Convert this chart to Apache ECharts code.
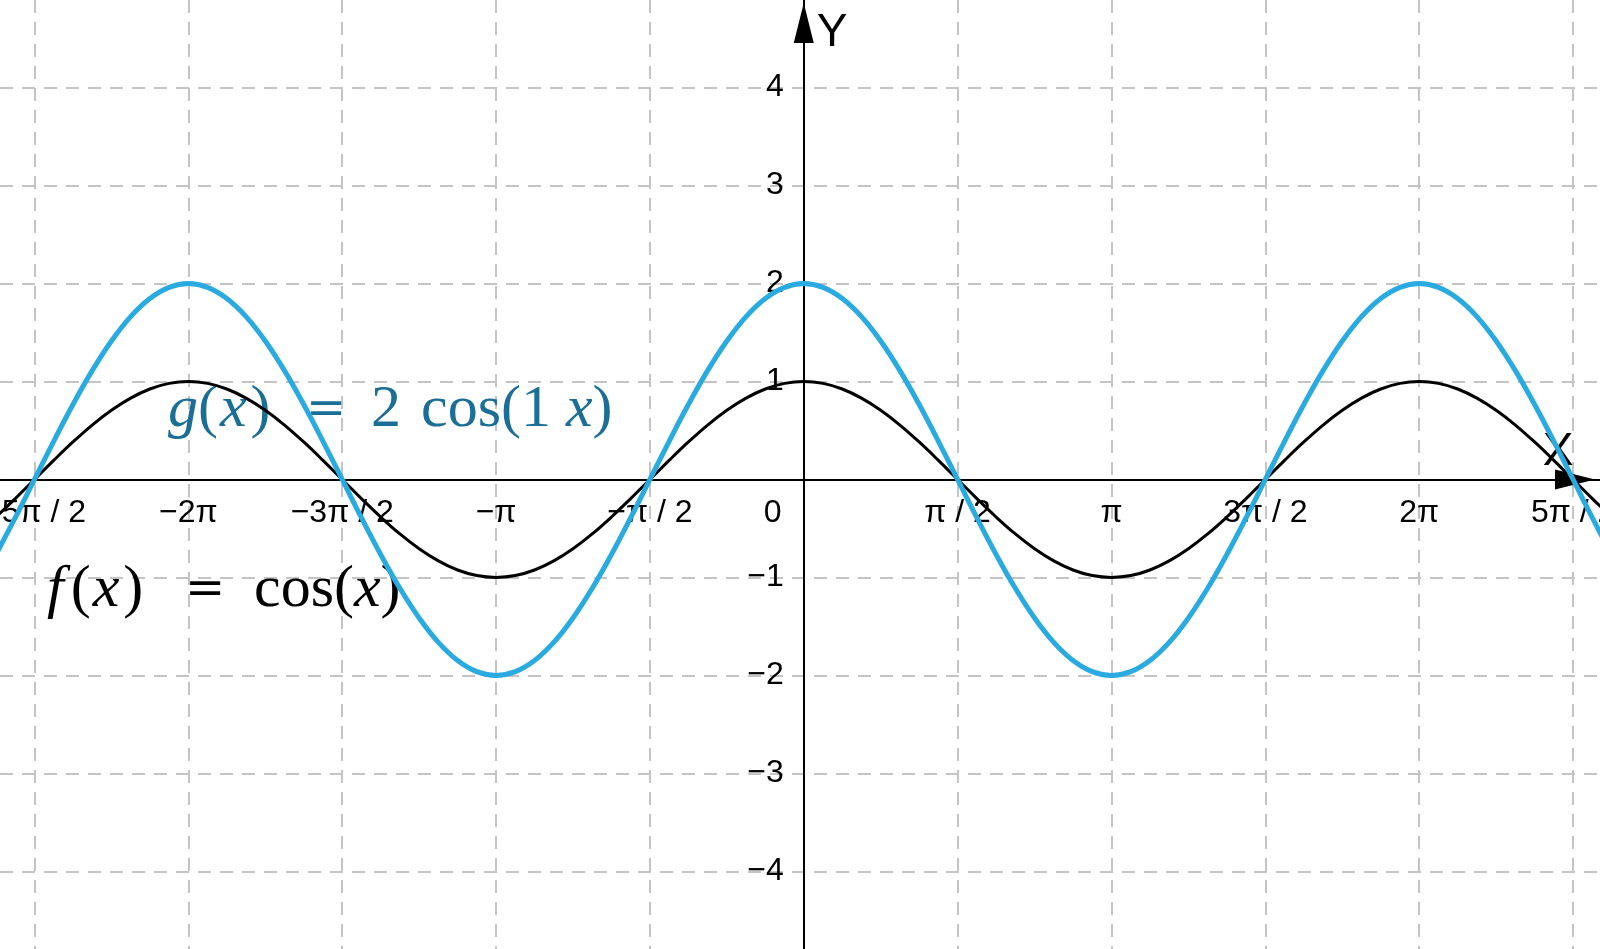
<!DOCTYPE html>
<html>
<head>
<meta charset="utf-8">
<script src="https://cdn.jsdelivr.net/npm/echarts@6/dist/echarts.min.js"></script>
<style>
html,body{margin:0;padding:0;background:#fff;}
#chart{width:1600px;height:949px;}
</style>
</head>
<body>
<div id="chart"></div>
<script>
// x sample positions, in multiples of π/16
const sampleSixteenths = [-42,-41,-40,-39,-38,-37,-36,-35,-34,-33,-32,-31,-30,-29,-28,-27,-26,-25,-24,-23,-22,-21,
  -20,-19,-18,-17,-16,-15,-14,-13,-12,-11,-10,-9,-8,-7,-6,-5,-4,-3,-2,-1,0,
  1,2,3,4,5,6,7,8,9,10,11,12,13,14,15,16,17,18,19,20,21,22,23,24,25,26,27,28,29,30,31,32,33,34,35,36,37,38,39,40,41,42];
// f(x) = cos(x), values read at those positions
const fValues = [-0.383,-0.195,0,0.195,0.383,0.556,0.707,0.831,0.924,0.981,1,0.981,0.924,0.831,0.707,0.556,0.383,0.195,0,-0.195,-0.383,-0.556,
  -0.707,-0.831,-0.924,-0.981,-1,-0.981,-0.924,-0.831,-0.707,-0.556,-0.383,-0.195,0,0.195,0.383,0.556,0.707,0.831,0.924,0.981,1,
  0.981,0.924,0.831,0.707,0.556,0.383,0.195,0,-0.195,-0.383,-0.556,-0.707,-0.831,-0.924,-0.981,-1,-0.981,-0.924,-0.831,-0.707,-0.556,-0.383,-0.195,
  0,0.195,0.383,0.556,0.707,0.831,0.924,0.981,1,0.981,0.924,0.831,0.707,0.556,0.383,0.195,0,-0.195,-0.383];
// g(x) = 2 cos(1 x)
const gValues = [-0.765,-0.390,0,0.390,0.765,1.111,1.414,1.663,1.848,1.962,2,1.962,1.848,1.663,1.414,1.111,0.765,0.390,0,-0.390,-0.765,-1.111,
  -1.414,-1.663,-1.848,-1.962,-2,-1.962,-1.848,-1.663,-1.414,-1.111,-0.765,-0.390,0,0.390,0.765,1.111,1.414,1.663,1.848,1.962,2,
  1.962,1.848,1.663,1.414,1.111,0.765,0.390,0,-0.390,-0.765,-1.111,-1.414,-1.663,-1.848,-1.962,-2,-1.962,-1.848,-1.663,-1.414,-1.111,-0.765,-0.390,
  0,0.390,0.765,1.111,1.414,1.663,1.848,1.962,2,1.962,1.848,1.663,1.414,1.111,0.765,0.390,0,-0.390,-0.765];
// x tick positions in multiples of π/2 and their labels
const xTickHalfPis = [-5,-4,-3,-2,-1,0,1,2,3,4,5];
const xTickLabels = ['−5π / 2','−2π','−3π / 2','−π','−π / 2','0','π / 2','π','3π / 2','2π','5π / 2'];
const yTickValues = [-4,-3,-2,-1,1,2,3,4];
const yTickLabels = ['−4','−3','−2','−1','1','2','3','4'];

const X_MIN = -8.206, X_MAX = 8.129, Y_MIN = -4.793, Y_MAX = 4.895;
const W = 1600, H = 949;
const HALF_PI = Math.PI / 2;
const xTickValues = xTickHalfPis.map(k => k * HALF_PI);
const fData = sampleSixteenths.map((k, i) => [k * Math.PI / 16, fValues[i]]);
const gData = sampleSixteenths.map((k, i) => [k * Math.PI / 16, gValues[i]]);

// axes cross at the origin: shift them from the grid edge to the zero line
const xAxisOffset = -H * (0 - Y_MIN) / (Y_MAX - Y_MIN);
const yAxisOffset = -W * (0 - X_MIN) / (X_MAX - X_MIN);

const chart = echarts.init(document.getElementById('chart'), null, {renderer: 'canvas'});
const gridLine = {show: true, lineStyle: {color: '#c4c4c4', width: 2, type: [13, 9]}};
const SANS = '"Liberation Sans", Arial, sans-serif';
const SERIF = '"Liberation Serif", "DejaVu Serif", serif';
const labelFont = {fontFamily: SANS, fontSize: 32, color: '#000'};

function mathText(x, y, text, color) {
  return {type: 'text', x: x, y: y, z: 1, style: {
    text: text, verticalAlign: 'middle', align: 'left',
    rich: {
      i: {fontFamily: SERIF, fontStyle: 'italic', fontSize: 60, fill: color},
      f: {fontFamily: SERIF, fontStyle: 'italic', fontSize: 60, fill: color, padding: [0, 7, 0, 3]},
      x: {fontFamily: SERIF, fontStyle: 'italic', fontSize: 60, fill: color, padding: [0, 4, 0, 2]},
      n: {fontFamily: SERIF, fontSize: 60, fill: color},
      e: {fontFamily: '"DejaVu Serif", serif', fontSize: 48, fill: color}
    }}};
}
const G_COLOR = '#1b6f97';

chart.setOption({
  animation: false,
  backgroundColor: '#fff',
  grid: {left: 0, right: 0, top: 0, bottom: 0, containLabel: false, outerBoundsMode: 'none'},
  xAxis: {
    type: 'value', min: X_MIN, max: X_MAX, position: 'bottom', offset: xAxisOffset,
    axisLine: {show: true, onZero: false, symbol: ['none', 'triangle'], symbolSize: [20, 40], symbolOffset: [0, -25],
      lineStyle: {color: '#000', width: 2}},
    axisTick: {show: false, customValues: xTickValues},
    splitLine: gridLine,
    axisLabel: Object.assign({
      customValues: xTickValues, margin: 18, hideOverlap: false,
      formatter: function (v) {
        const idx = Math.round(v / HALF_PI) - xTickHalfPis[0];
        const t = xTickLabels[idx];
        return t === '0' ? '{z|0}' : t;
      },
      rich: {z: Object.assign({padding: [0, 62, 0, 0]}, labelFont)}
    }, labelFont)
  },
  yAxis: {
    type: 'value', min: Y_MIN, max: Y_MAX, position: 'left', offset: yAxisOffset,
    axisLine: {show: true, onZero: false, symbol: ['none', 'triangle'], symbolSize: [20, 40], symbolOffset: [0, -23],
      lineStyle: {color: '#000', width: 2}},
    axisTick: {show: false, customValues: yTickValues},
    splitLine: gridLine,
    axisLabel: Object.assign({
      customValues: yTickValues, margin: 20, hideOverlap: false, padding: [10, 0, 0, 0],
      formatter: function (v) { return yTickLabels[yTickValues.indexOf(Math.round(v))]; }
    }, labelFont)
  },
  graphic: [
    {type: 'text', x: 832, y: 33, z: 1, style: {text: 'Y', fontSize: 46, fontFamily: SANS, fill: '#000', align: 'center', verticalAlign: 'middle'}},
    {type: 'text', x: 1558, y: 452, z: 1, style: {text: 'X', fontSize: 46, fontFamily: SANS, fill: '#000', align: 'center', verticalAlign: 'middle'}},
    mathText(168, 410, '{i|g}{n|(}{x|x}{n|)}', G_COLOR),
    mathText(306, 412, '{e|=}', G_COLOR),
    mathText(371, 410, '{n|2}', G_COLOR),
    mathText(421, 410, '{n|cos(1 }{i|x}{n|)}', G_COLOR),
    mathText(44, 590, '{f|f}{n|(}{x|x}{n|)}', '#000'),
    mathText(185, 592, '{e|=}', '#000'),
    mathText(254, 590, '{n|cos(}{i|x}{n|)}', '#000')
  ],
  series: [
    {name: 'f(x) = cos(x)', type: 'line', data: fData, smooth: 0.4, showSymbol: false, z: 3,
      lineStyle: {color: '#000', width: 3}},
    {name: 'g(x) = 2 cos(1 x)', type: 'line', data: gData, smooth: 0.4, showSymbol: false, z: 4,
      lineStyle: {color: '#29abe2', width: 5}}
  ]
});
</script>
</body>
</html>
